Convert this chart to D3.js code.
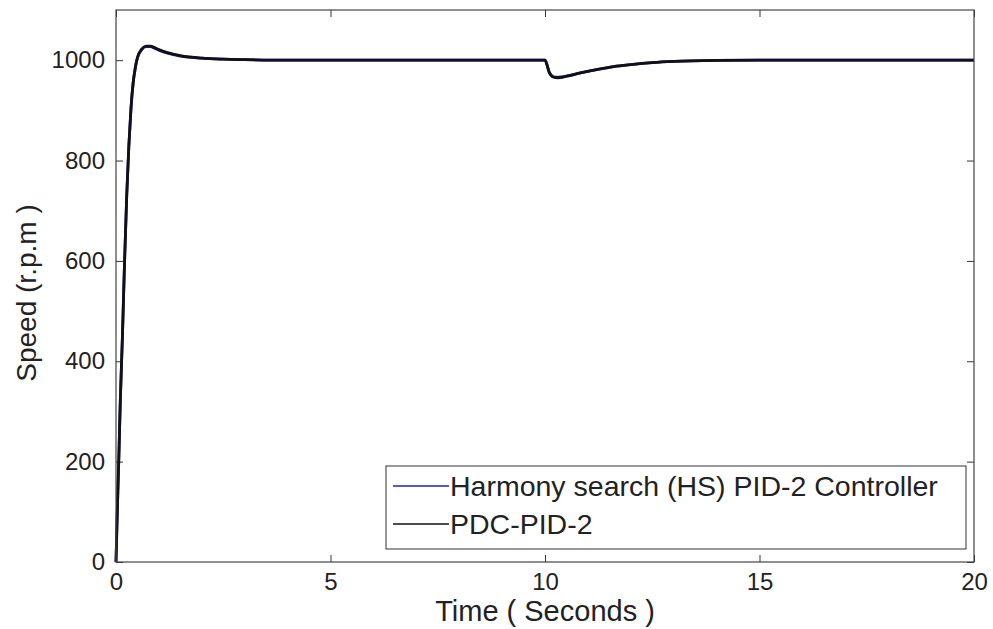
<!DOCTYPE html>
<html>
<head>
<meta charset="utf-8">
<script src="https://cdn.jsdelivr.net/npm/d3@7"></script>
<style>
  body { margin: 0; background: #fff; }
  svg text { font-family: "Liberation Sans", Arial, sans-serif; fill: #222; }
</style>
</head>
<body>
<div id="chart"></div>
<script>
// time in seconds
const time = [0, 0.03, 0.07, 0.1, 0.15, 0.2, 0.25, 0.3, 0.35, 0.4, 0.45, 0.5, 0.6, 0.7, 0.8, 0.9, 1.0, 1.2, 1.5, 2, 2.5, 3, 4, 10,
  10.05, 10.1, 10.2, 10.3, 10.5, 10.8, 11.2, 11.6, 12, 12.5, 13, 14, 15, 20];
// speed, r.p.m
const hsSpeed = [0, 100, 220, 320, 450, 600, 730, 830, 905, 955, 985, 1005, 1021, 1027, 1027, 1024, 1020, 1014, 1008, 1004, 1002, 1001, 1000, 1000,
  990, 976, 967, 966, 968, 974, 981, 987, 991, 995, 997.5, 999.5, 1000, 1000];
const pdcSpeed = [0, 100, 220, 320, 450, 600, 730, 830, 905, 955, 985, 1005, 1022, 1028, 1028, 1025, 1021, 1015, 1009, 1004, 1002, 1001, 1000, 1000,
  990, 975, 966, 965, 968, 974, 981, 987, 991, 995, 997.5, 999.5, 1000, 1000];
const xTicks = [0, 5, 10, 15, 20];
const yTicks = [0, 200, 400, 600, 800, 1000];
const seriesNames = ["Harmony search (HS) PID-2 Controller", "PDC-PID-2"];
const seriesColors = ["#2020c0", "#111"];

const W = 993, H = 629;
const m = {top: 10, right: 19, bottom: 67, left: 116};
const w = W - m.left - m.right;
const h = H - m.top - m.bottom;

const svg = d3.select("#chart").append("svg")
  .attr("width", W)
  .attr("height", H);

const g = svg.append("g").attr("transform", "translate(" + m.left + "," + m.top + ")");

let x = d3.scaleLinear().domain([0, 20]).range([0, w]);
let y = d3.scaleLinear().domain([0, 1100]).range([h, 0]);

// axes with inward ticks (matlab style)
const tickLen = 7;
g.append("g")
  .attr("transform", "translate(0," + h + ")")
  .call(d3.axisBottom(x).tickValues(xTicks).tickFormat(d3.format("d")).tickSizeInner(-tickLen).tickSizeOuter(0).tickPadding(10))
  .call(a => a.select(".domain").remove())
  .call(a => a.selectAll("text").attr("font-size", 24).attr("dy", "0.75em"));
g.append("g")
  .call(d3.axisTop(x).tickValues(xTicks).tickSizeInner(-tickLen).tickSizeOuter(0).tickFormat(""))
  .call(a => a.select(".domain").remove());
g.append("g")
  .call(d3.axisLeft(y).tickValues(yTicks).tickFormat(d3.format("d")).tickSizeInner(-tickLen).tickSizeOuter(0).tickPadding(11))
  .call(a => a.select(".domain").remove())
  .call(a => a.selectAll("text").attr("font-size", 24));
g.append("g")
  .attr("transform", "translate(" + w + ",0)")
  .call(d3.axisRight(y).tickValues(yTicks).tickSizeInner(-tickLen).tickSizeOuter(0).tickFormat(""))
  .call(a => a.select(".domain").remove());
g.selectAll(".tick line").attr("stroke", "#333");

// lines
const line = d3.line().x((d, i) => x(time[i])).y(d => y(d)).curve(d3.curveMonotoneX);
[hsSpeed, pdcSpeed].forEach((s, k) => {
  g.append("path")
    .datum(s)
    .attr("d", line)
    .attr("fill", "none")
    .attr("stroke", seriesColors[k])
    .attr("stroke-width", 2.8);
});

// frame
g.append("rect")
  .attr("width", w).attr("height", h)
  .attr("fill", "none").attr("stroke", "#444").attr("stroke-width", 1.2);

// legend
const lg = svg.append("g").attr("transform", "translate(386,466)");
lg.append("rect").attr("width", 580).attr("height", 83)
  .attr("fill", "#fff").attr("stroke", "#333").attr("stroke-width", 1);
seriesNames.forEach((n, i) => {
  const yy = 20 + i * 38;
  lg.append("line").attr("x1", 7).attr("x2", 63).attr("y1", yy).attr("y2", yy)
    .attr("stroke", seriesColors[i]).attr("stroke-width", 1.5);
  lg.append("text").attr("x", 64).attr("y", yy).attr("dy", "0.35em")
    .attr("font-size", 28.5).text(n);
});

// axis labels
svg.append("text")
  .attr("transform", "translate(36," + 293 + ") rotate(-90)")
  .attr("text-anchor", "middle")
  .attr("font-size", 28)
  .text("Speed (r.p.m )");
svg.append("text")
  .attr("x", m.left + w / 2).attr("y", 621)
  .attr("text-anchor", "middle")
  .attr("font-size", 29)
  .text("Time ( Seconds )");
</script>
</body>
</html>
